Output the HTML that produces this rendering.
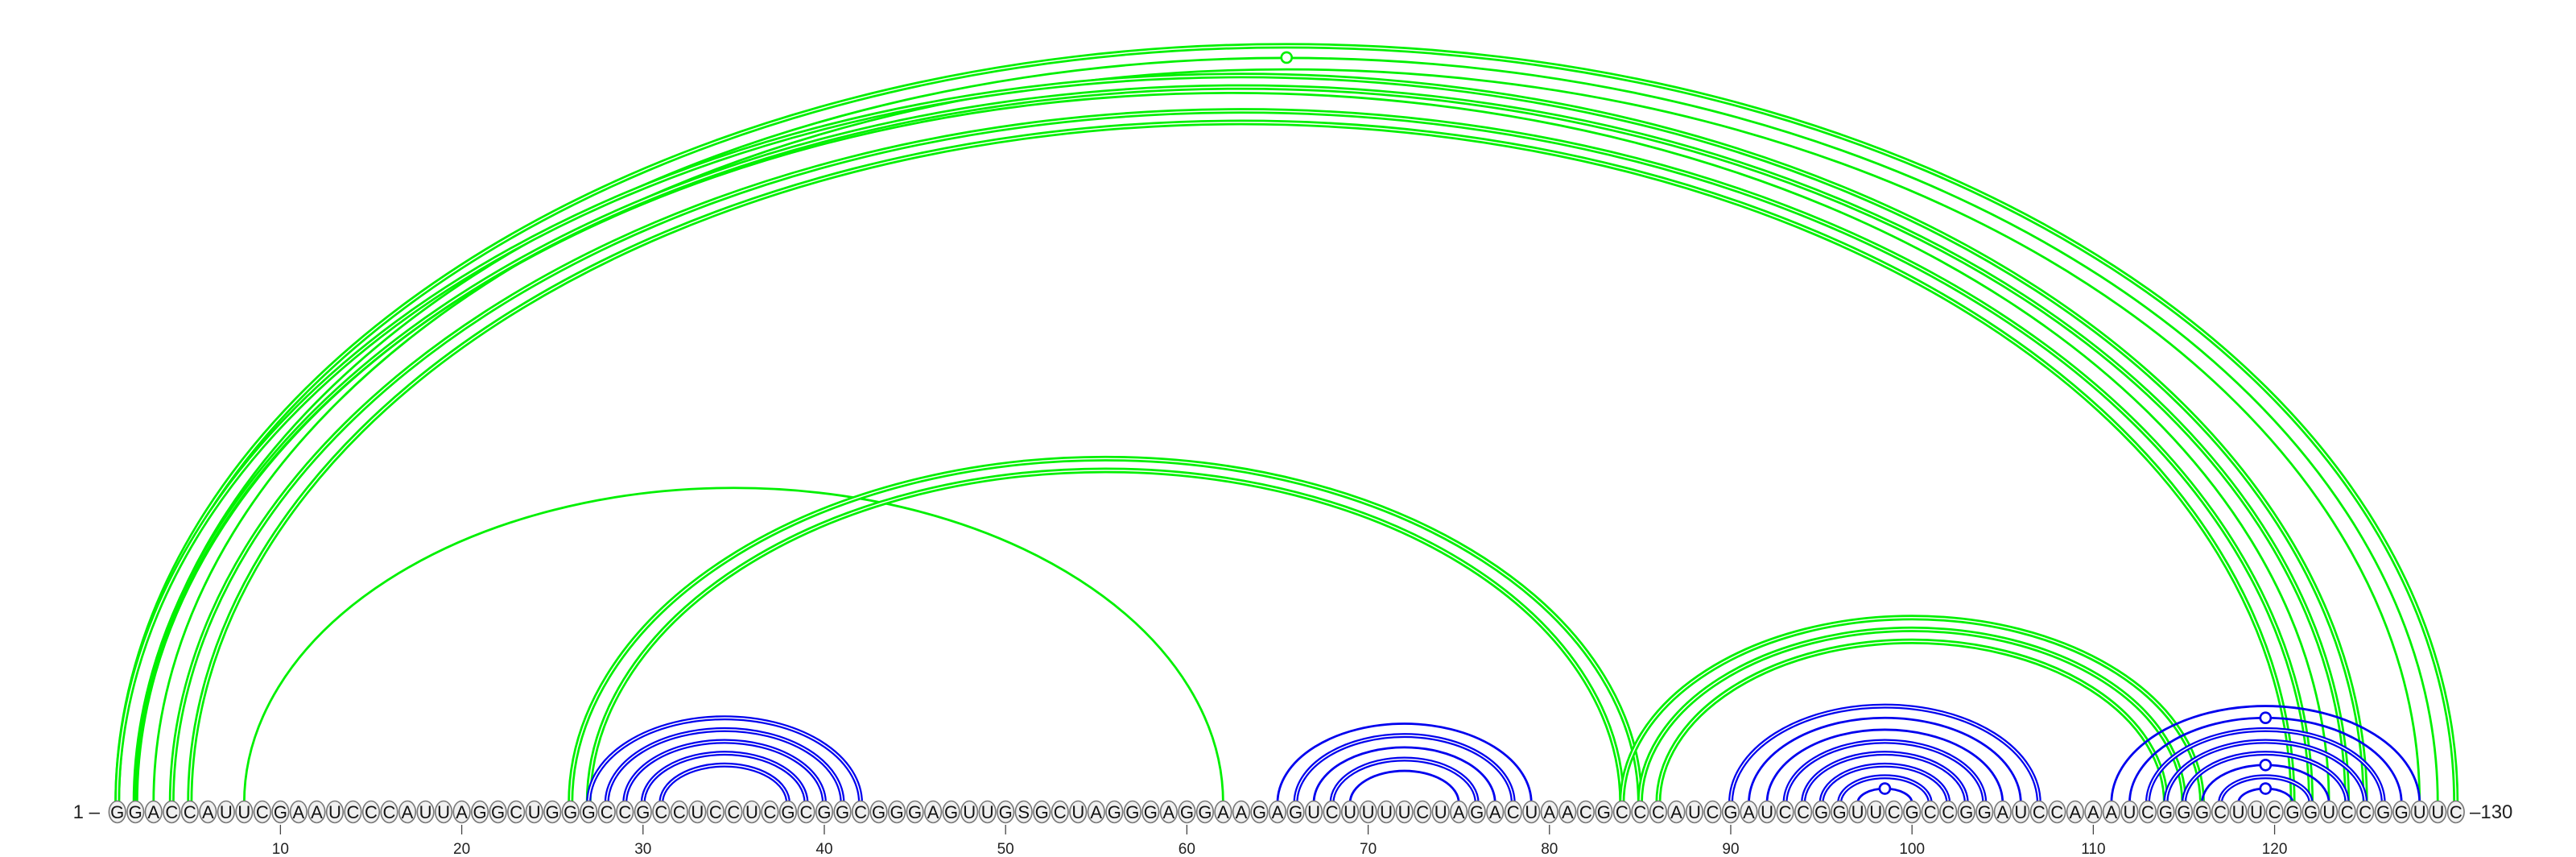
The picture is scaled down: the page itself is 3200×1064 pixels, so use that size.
<!DOCTYPE html>
<html><head><meta charset="utf-8"><style>
html,body{margin:0;padding:0;background:#fff;}
svg{display:block;}
text{font-family:"Liberation Sans",sans-serif;}
</style></head><body>
<svg id="chart" width="3200" height="1064" viewBox="0 0 3200 1064" xmlns="http://www.w3.org/2000/svg">
<g id="arcs"></g>
<g id="bases"></g>
<g id="ticks"></g>
<text x="124" y="1016" font-size="24" fill="#222" text-anchor="end">1 –</text>
<text x="3068" y="1016" font-size="24" fill="#222">–130</text>
</svg>
<script>
const sequence = "GGACCAUUCGAAUCCCAUUAGGCUGGGCCGCCUCCUCGCGGCGGGAGUUGSGCUAGGGAGGAAGAGUCUUUUCUAGACUAACGCCCAUCGAUCCGGUUCGCCGGAUCCAAAUCGGGCUUCGGUCCGGUUC";
const tickPositions = [10,20,30,40,50,60,70,80,90,100,110,120];
// blue structure pairs: [i, j, double(1)/single(0), marker(1/0)]
const bluePairs = [
 [27,42,1,0],[28,41,1,0],[29,40,1,0],[30,39,1,0],[31,38,1,0],
 [65,79,0,0],[66,78,1,0],[67,77,0,0],[68,76,1,0],[69,75,0,0],
 [90,107,1,0],[91,106,0,0],[92,105,0,0],[93,104,1,0],[94,103,1,0],[95,102,1,0],[96,101,1,0],[97,100,0,1],
 [111,128,0,0],[112,127,0,1],[113,126,1,0],[114,125,1,0],[115,124,1,0],[116,123,0,1],[117,122,1,0],[118,121,0,1]
];
// green structure pairs
const greenPairs = [
 [1,130,1,0],[2,129,0,1],[3,128,0,0],[1,125,1,0],[2,124,1,0],[2,123,0,0],[4,122,1,0],[5,121,1,0],
 [8,62,0,0],
 [26,85,1,0],[27,84,1,0],
 [84,116,1,0],[85,115,1,0],[86,114,1,0]
];

const NS="http://www.w3.org/2000/svg";
const x0=145.7, pitch=22.52, baseY=1008, arcY=997;
function xPos(p){return x0+(p-1)*pitch;}
function mk(tag,attrs,parent){const e=document.createElementNS(NS,tag);for(const k in attrs)e.setAttribute(k,attrs[k]);parent.appendChild(e);return e;}

const arcsG=document.getElementById('arcs');
function drawPairs(pairs,color,name,dw){
  pairs.forEach(p=>{
    const [i,j,dbl,mark]=p;
    const xa=xPos(i), xb=xPos(j);
    const rx=(xb-xa)/2, ry=0.65*rx-4;
    const d=`M${xa},${arcY} A${rx},${ry} 0 0 1 ${xb},${arcY}`;
    if(dbl){
      const a=mk('path',{d:d,fill:'none',stroke:color,'stroke-width':dw},arcsG);
      
      
      const w=mk('path',{d:d,fill:'none',stroke:'#fff','stroke-width':1.5},arcsG);
      
      
    } else {
      const a=mk('path',{d:d,fill:'none',stroke:color,'stroke-width':2.8},arcsG);
      
      
    }
    if(mark){
      const c=mk('circle',{cx:(xa+xb)/2,cy:arcY-ry,r:6.5,fill:'#fff',stroke:color,'stroke-width':2.6},arcsG);
      
      
    }
  });
}
drawPairs(greenPairs,'#00f000','green',7);
drawPairs(bluePairs,'#0000ee','blue',6);

const basesG=document.getElementById('bases');
for(let k=0;k<sequence.length;k++){
  const cx=xPos(k+1);
  const e=mk('ellipse',{cx:cx,cy:baseY,rx:10.3,ry:13.5,fill:'#f0f0f0',stroke:'#777','stroke-width':1.6},basesG);
  
  
  const t=mk('text',{x:cx,y:baseY+8,'font-size':22,'text-anchor':'middle',fill:'#111'},basesG);
  t.textContent=sequence[k];
  
  
}
const ticksG=document.getElementById('ticks');
tickPositions.forEach(p=>{
  const x=xPos(p);
  const l=mk('line',{x1:x,x2:x,y1:1024,y2:1036,stroke:'#444','stroke-width':1.3},ticksG);
  
  
  const t=mk('text',{x:x,y:1060,'font-size':19,'text-anchor':'middle',fill:'#222'},ticksG);
  t.textContent=p;
  
  
});
</script>
</body></html>
